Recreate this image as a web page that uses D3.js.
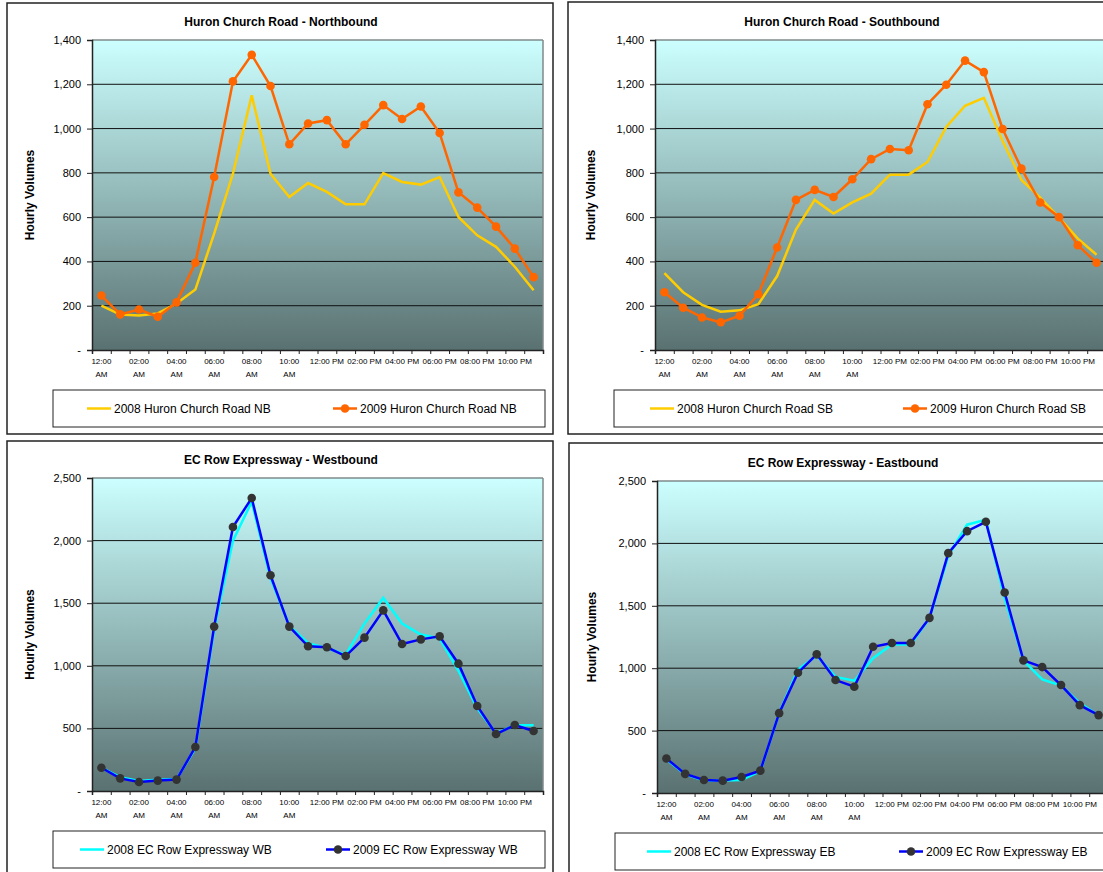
<!DOCTYPE html>
<html>
<head>
<meta charset="utf-8">
<script src="https://cdn.jsdelivr.net/npm/d3@7"></script>
<style>
  body { margin: 0; background: #fff; }
  text { font-family: "Liberation Sans", Arial, sans-serif; fill: #000; }
</style>
</head>
<body>
<svg width="1103" height="872"></svg>
<script>
// hour categories
const hours = [
  "12:00 AM", "01:00 AM", "02:00 AM", "03:00 AM", "04:00 AM", "05:00 AM",
  "06:00 AM", "07:00 AM", "08:00 AM", "09:00 AM", "10:00 AM", "11:00 AM",
  "12:00 PM", "01:00 PM", "02:00 PM", "03:00 PM", "04:00 PM", "05:00 PM",
  "06:00 PM", "07:00 PM", "08:00 PM", "09:00 PM", "10:00 PM", "11:00 PM"
];

// Huron Church Road NB
const nb2008 = [200, 160, 156, 165, 210, 273, 526, 796, 1150, 796, 691, 754,
  714, 658, 658, 799, 759, 747, 781, 601, 518, 466, 376, 270];
const nb2009 = [246, 161, 183, 150, 215, 394, 781, 1213, 1333, 1192, 929, 1023,
  1038, 929, 1017, 1106, 1043, 1100, 980, 712, 643, 557, 458, 329];

// Huron Church Road SB
const sb2008 = [347, 261, 204, 173, 179, 207, 334, 544, 678, 616, 667, 706,
  792, 792, 849, 1007, 1103, 1139, 944, 768, 688, 598, 503, 430];
const sb2009 = [261, 191, 147, 125, 155, 252, 463, 678, 723, 691, 771, 862,
  908, 902, 1110, 1198, 1307, 1255, 998, 819, 666, 600, 473, 394];

// EC Row Expressway WB
const wb2008 = [185, 110, 80, 90, 95, 340, 1290, 2000, 2310, 1700, 1320, 1180,
  1140, 1090, 1337, 1542, 1337, 1250, 1220, 960, 660, 460, 525, 525];
const wb2009 = [186, 101, 72, 83, 91, 351, 1313, 2109, 2340, 1723, 1313, 1156,
  1148, 1078, 1225, 1443, 1174, 1211, 1235, 1017, 679, 455, 527, 479];

// EC Row Expressway EB
const eb2008 = [270, 150, 100, 100, 105, 175, 640, 990, 1100, 930, 900, 1080,
  1190, 1190, 1400, 1900, 2150, 2190, 1560, 1060, 910, 860, 720, 620];
const eb2009 = [276, 153, 104, 99, 128, 179, 640, 964, 1111, 905, 851, 1172,
  1202, 1202, 1403, 1922, 2098, 2173, 1606, 1063, 1009, 865, 704, 624];

(function () {
  "use strict";
  const svg = d3.select("svg");

  const grad = svg.append("defs").append("linearGradient")
    .attr("id", "plotbg")
    .attr("x1", 0).attr("y1", 0).attr("x2", 0).attr("y2", 1);
  grad.append("stop").attr("offset", "0%").attr("stop-color", "#ccffff");
  grad.append("stop").attr("offset", "100%").attr("stop-color", "#5a7171");

  const panels = [
    { title: "Huron Church Road - Northbound", x: 7, y: 3, h: 431, top: 37, bottom: 347, left: 85,
      max: 1400, step: 200, s1: nb2008, s2: nb2009,
      n1: "2008 Huron Church Road NB", n2: "2009 Huron Church Road NB",
      c1: "#ffcc00", c2: "#ff6600", dot: "#ff6600", leg1: 80, leg2: 326 },
    { title: "Huron Church Road - Southbound", x: 568, y: 2, h: 432, top: 38, bottom: 348, left: 87,
      max: 1400, step: 200, s1: sb2008, s2: sb2009,
      n1: "2008 Huron Church Road SB", n2: "2009 Huron Church Road SB",
      c1: "#ffcc00", c2: "#ff6600", dot: "#ff6600", leg1: 82, leg2: 335 },
    { title: "EC Row Expressway - Westbound", x: 7, y: 441, h: 440, top: 37, bottom: 350, left: 85,
      max: 2500, step: 500, s1: wb2008, s2: wb2009,
      n1: "2008 EC Row Expressway WB", n2: "2009 EC Row Expressway WB",
      c1: "#00ffff", c2: "#0000ff", dot: "#333333", leg1: 73, leg2: 319 },
    { title: "EC Row Expressway - Eastbound", x: 569, y: 443, h: 440, top: 38, bottom: 350, left: 88,
      max: 2500, step: 500, s1: eb2008, s2: eb2009,
      n1: "2008 EC Row Expressway EB", n2: "2009 EC Row Expressway EB",
      c1: "#00ffff", c2: "#0000ff", dot: "#333333", leg1: 78, leg2: 330 }
  ];

  const plotW = 451;
  const fmt = d3.format(",");

  panels.forEach(function (p) {
    const g = svg.append("g").attr("transform", `translate(${p.x},${p.y})`);

    g.append("rect")
      .attr("width", 546).attr("height", p.h)
      .attr("fill", "#fff").attr("stroke", "#222").attr("stroke-width", 1.5);

    const x = d3.scaleBand().domain(hours).range([p.left, p.left + plotW]);
    const xEdge = d3.scaleLinear().domain([0, hours.length]).range([p.left, p.left + plotW]);
    const y = d3.scaleLinear().domain([0, p.max]).range([p.bottom, p.top]);
    const cx = (d, i) => x(hours[i]) + x.bandwidth() / 2;

    g.append("rect")
      .attr("x", p.left).attr("y", p.top)
      .attr("width", plotW).attr("height", p.bottom - p.top)
      .attr("fill", "url(#plotbg)");

    const yTicks = d3.range(0, p.max + 1, p.step);
    g.selectAll(".grid").data(yTicks.filter(v => v > 0)).enter()
      .append("line")
      .attr("x1", p.left).attr("x2", p.left + plotW)
      .attr("y1", d => y(d)).attr("y2", d => y(d))
      .attr("stroke", d => d === p.max ? "#7f8a8a" : "#111")
      .attr("stroke-width", d => d === p.max ? 1.5 : 1);
    g.append("line")
      .attr("x1", p.left + plotW).attr("x2", p.left + plotW)
      .attr("y1", p.top).attr("y2", p.bottom)
      .attr("stroke", "#7f8a8a").attr("stroke-width", 1.5);

    // y axis
    const ya = g.append("g").attr("transform", `translate(${p.left},0)`)
      .call(d3.axisLeft(y).tickValues(yTicks).tickSize(5).tickPadding(6)
        .tickFormat(v => v === 0 ? "-" : fmt(v)));
    ya.select(".domain").attr("stroke", "#222").attr("stroke-width", 1.5);
    ya.selectAll(".tick line").attr("stroke", "#222");
    ya.selectAll("text").style("font-size", "11px").attr("fill", "#000");

    // x axis, ticks on category edges
    const xa = g.append("g").attr("transform", `translate(0,${p.bottom})`)
      .call(d3.axisBottom(xEdge).ticks(hours.length).tickSize(4).tickFormat(""));
    xa.select(".domain").attr("stroke", "#222").attr("stroke-width", 1.5);
    xa.selectAll(".tick line").attr("stroke", "#222");

    const lab = g.selectAll(".xl").data(hours.filter((h, i) => i % 2 === 0)).enter()
      .append("text")
      .attr("text-anchor", "middle")
      .style("font-size", "8px");
    lab.each(function (h) {
      const t = d3.select(this);
      const px = x(h) + x.bandwidth() / 2;
      if (h.endsWith("AM")) {
        t.append("tspan").attr("x", px).attr("y", p.bottom + 14).text(h.slice(0, 5));
        t.append("tspan").attr("x", px).attr("y", p.bottom + 27).text("AM");
      } else {
        t.append("tspan").attr("x", px).attr("y", p.bottom + 14).text(h);
      }
    });

    // titles
    g.append("text")
      .attr("x", 274).attr("y", p.top - 14)
      .attr("text-anchor", "middle")
      .style("font-size", "12px").style("font-weight", "bold")
      .text(p.title);
    g.append("text")
      .attr("transform", `translate(27,${(p.top + p.bottom) / 2}) rotate(-90)`)
      .attr("text-anchor", "middle")
      .style("font-size", "12px").style("font-weight", "bold")
      .text("Hourly Volumes");

    // series
    const line = d3.line().x(cx).y(d => y(d));
    g.append("path").datum(p.s1)
      .attr("d", line).attr("fill", "none")
      .attr("stroke", p.c1).attr("stroke-width", 2.5);
    g.append("path").datum(p.s2)
      .attr("d", line).attr("fill", "none")
      .attr("stroke", p.c2).attr("stroke-width", 2.5);
    g.selectAll(".pt").data(p.s2).enter()
      .append("circle")
      .attr("cx", cx).attr("cy", d => y(d))
      .attr("r", 4.3).attr("fill", p.dot);

    // legend
    const ly = p.bottom + 40;
    g.append("rect")
      .attr("x", 46).attr("y", ly)
      .attr("width", 492).attr("height", 37)
      .attr("fill", "#fff").attr("stroke", "#222").attr("stroke-width", 1);
    const my = ly + 18.5;
    g.append("line")
      .attr("x1", p.leg1).attr("x2", p.leg1 + 24).attr("y1", my).attr("y2", my)
      .attr("stroke", p.c1).attr("stroke-width", 2.5);
    g.append("text").attr("x", p.leg1 + 27).attr("y", my + 4.5)
      .style("font-size", "12px").text(p.n1);
    g.append("line")
      .attr("x1", p.leg2).attr("x2", p.leg2 + 24).attr("y1", my).attr("y2", my)
      .attr("stroke", p.c2).attr("stroke-width", 2.5);
    g.append("circle").attr("cx", p.leg2 + 12).attr("cy", my).attr("r", 4.3).attr("fill", p.dot);
    g.append("text").attr("x", p.leg2 + 27).attr("y", my + 4.5)
      .style("font-size", "12px").text(p.n2);
  });
})(d3);
</script>
</body>
</html>
